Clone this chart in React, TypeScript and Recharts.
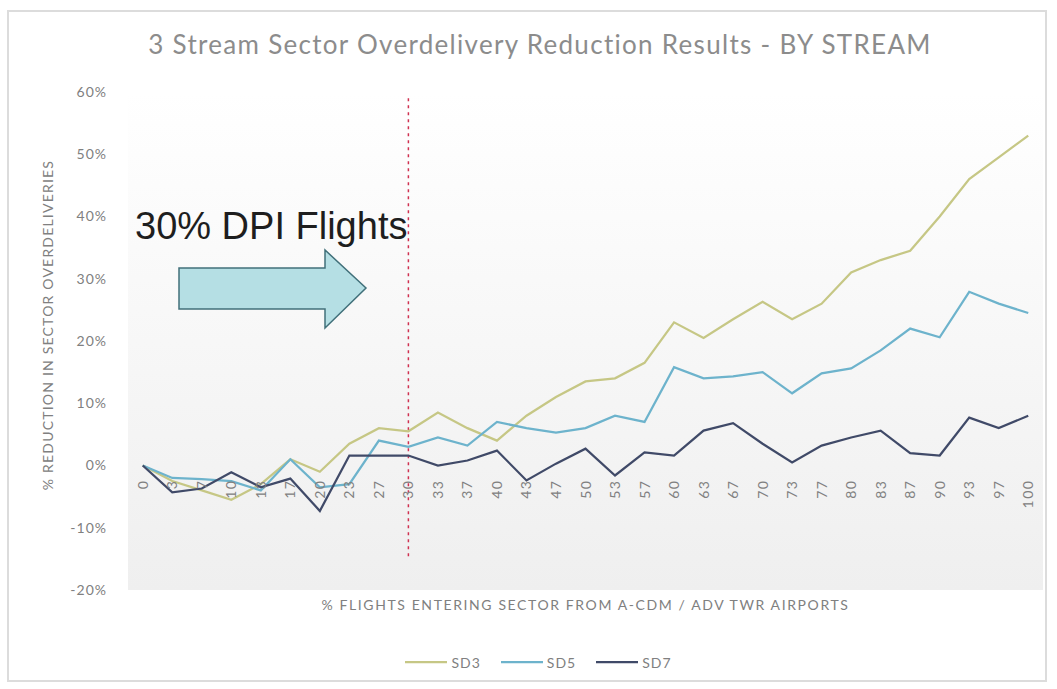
import React from 'react';
import { LineChart, Line, XAxis, YAxis, CartesianGrid, ReferenceLine, Legend, Label } from 'recharts';

// % of flights entering the sector from A-CDM / ADV TWR airports
const categories = [
  '0', '3', '7', '10', '13', '17', '20', '23', '27', '30', '33', '37', '40', '43', '47', '50',
  '53', '57', '60', '63', '67', '70', '73', '77', '80', '83', '87', '90', '93', '97', '100',
];

// % reduction in sector overdeliveries, per stream
const sd3 = [
  0, -2.5, -4, -5.5, -3, 1, -1, 3.5, 6, 5.5, 8.5, 6, 4, 8, 11, 13.5,
  14, 16.5, 23, 20.5, 23.5, 26.3, 23.5, 26, 31, 33, 34.5, 40, 46, 49.5, 53,
];
const sd5 = [
  0, -2, -2.2, -2.5, -4, 1, -3.5, -3, 4, 3, 4.5, 3.2, 7, 6, 5.3, 6,
  8, 7, 15.8, 14, 14.3, 15, 11.6, 14.8, 15.6, 18.5, 22, 20.6, 27.9, 26, 24.5,
];
const sd7 = [
  0, -4.3, -3.7, -1.1, -3.5, -2.1, -7.3, 1.6, 1.6, 1.6, 0, 0.8, 2.4, -2.4, 0.3, 2.7,
  -1.6, 2.1, 1.6, 5.6, 6.8, 3.5, 0.5, 3.2, 4.5, 5.6, 2, 1.6, 7.7, 6, 8,
];

const yTicks = [-20, -10, 0, 10, 20, 30, 40, 50, 60];

const series = [
  { key: 'SD3', color: '#c6c785' },
  { key: 'SD5', color: '#6db3cc' },
  { key: 'SD7', color: '#404a68' },
];

const data = categories.map((c, i) => ({ pct: c, SD3: sd3[i], SD5: sd5[i], SD7: sd7[i] }));

const W = 1057;
const H = 689;
const MARGIN = { top: 92, right: 14, bottom: 45, left: 0 };
const Y_AXIS_W = 128;
const X_AXIS_H = 30;
const LEGEND_H = 24;
const PLOT_H = H - MARGIN.top - MARGIN.bottom - X_AXIS_H - LEGEND_H;
const Y_MIN = -20;
const Y_MAX = 60;
// distance of the 0% line above the plot bottom (Excel draws the category labels there)
const ZERO_UP = (PLOT_H * (0 - Y_MIN)) / (Y_MAX - Y_MIN);

const FONT = 'Lato, "Open Sans", sans-serif';
const GREY = '#808080';

const XTick = (props: any) => {
  const { x, y, payload } = props;
  const ty = y - 8 - ZERO_UP + 14;
  return (
    <text
      x={x}
      y={ty}
      dy={5}
      transform={`rotate(-90 ${x} ${ty})`}
      textAnchor="end"
      fill={GREY}
      fontSize={14}
      letterSpacing={1.5}
      fontFamily={FONT}
    >
      {payload.value}
    </text>
  );
};

const renderLegend = () => (
  <div
    style={{
      height: LEGEND_H,
      display: 'flex',
      justifyContent: 'center',
      alignItems: 'center',
      gap: 20,
      fontFamily: FONT,
      fontSize: 14,
      letterSpacing: 1,
      color: GREY,
    }}
  >
    {series.map(s => (
      <div key={s.key} style={{ display: 'flex', alignItems: 'center' }}>
        <svg width={42} height={6} style={{ marginRight: 4 }}>
          <line x1={0} y1={3} x2={42} y2={3} stroke={s.color} strokeWidth={2.25} />
        </svg>
        <span>{s.key}</span>
      </div>
    ))}
  </div>
);

export default function App() {
  return (
    <div style={{ position: 'absolute', left: 0, top: 0, width: W, height: H, background: '#fff' }}>
      <div
        style={{
          position: 'absolute',
          left: 7,
          top: 10,
          width: 1040,
          height: 672,
          border: '2px solid #dcdcdc',
          boxSizing: 'border-box',
        }}
      />
      <LineChart width={W} height={H} data={data} margin={MARGIN}>
        <defs>
          <linearGradient id="plotBg" x1="0" y1="0" x2="0" y2="1">
            <stop offset="0%" stopColor="#ffffff" />
            <stop offset="100%" stopColor="#efefef" />
          </linearGradient>
        </defs>
        <CartesianGrid horizontal={false} vertical={false} fill="url(#plotBg)" />
        <XAxis
          dataKey="pct"
          height={X_AXIS_H}
          axisLine={false}
          tickLine={false}
          interval={0}
          padding={{ left: 14.75, right: 14.75 }}
          tick={<XTick />}
        >
          <Label
            content={({ viewBox }: any) => (
              <text
                x={viewBox.x + viewBox.width / 2}
                y={viewBox.y + 20}
                textAnchor="middle"
                fill={GREY}
                fontSize={14}
                letterSpacing={1.6}
                fontFamily={FONT}
              >
                % FLIGHTS ENTERING SECTOR FROM A-CDM / ADV TWR AIRPORTS
              </text>
            )}
          />
        </XAxis>
        <YAxis
          width={Y_AXIS_W}
          domain={[Y_MIN, Y_MAX]}
          ticks={yTicks}
          axisLine={false}
          tickLine={false}
          tickMargin={15}
          tickFormatter={(v: number) => `${v}%`}
          tick={{ fill: GREY, fontSize: 14, fontFamily: FONT, letterSpacing: 1 }}
        >
          <Label
            content={({ viewBox }: any) => {
              const cx = 53;
              const cy = viewBox.y + viewBox.height / 2 - 16;
              return (
                <text
                  x={cx}
                  y={cy}
                  transform={`rotate(-90 ${cx} ${cy})`}
                  textAnchor="middle"
                  fill={GREY}
                  fontSize={14}
                  letterSpacing={1.2}
                  fontFamily={FONT}
                >
                  % REDUCTION IN SECTOR OVERDELIVERIES
                </text>
              );
            }}
          />
        </YAxis>
        <ReferenceLine
          segment={[{ x: '30', y: 59 }, { x: '30', y: -15 }]}
          stroke="#d03050"
          strokeWidth={1.5}
          strokeDasharray="3 4"
        />
        {series.map(s => (
          <Line
            key={s.key}
            type="linear"
            dataKey={s.key}
            stroke={s.color}
            strokeWidth={2.25}
            dot={false}
            isAnimationActive={false}
          />
        ))}
        <Legend
          verticalAlign="bottom"
          height={LEGEND_H}
          content={renderLegend}
          wrapperStyle={{ bottom: 15, left: 10, width: W }}
        />
      </LineChart>
      <svg
        width={W}
        height={H}
        style={{ position: 'absolute', left: 0, top: 0, pointerEvents: 'none' }}
      >
        <text
          x={540}
          y={54}
          textAnchor="middle"
          fill="#8c8c8c"
          fontSize={26}
          letterSpacing={1.3}
          fontFamily={FONT}
        >
          3 Stream Sector Overdelivery Reduction Results - BY STREAM
        </text>
        <text x={135} y={239} fill="#1e1e1e" fontSize={38} fontFamily='"Liberation Sans", Arial, sans-serif'>
          30% DPI Flights
        </text>
        <polygon
          points="179,268 325,268 325,250 366,288 325,328 325,309 179,309"
          fill="#b5dfe4"
          stroke="#41707a"
          strokeWidth={1.5}
        />
      </svg>
    </div>
  );
}
